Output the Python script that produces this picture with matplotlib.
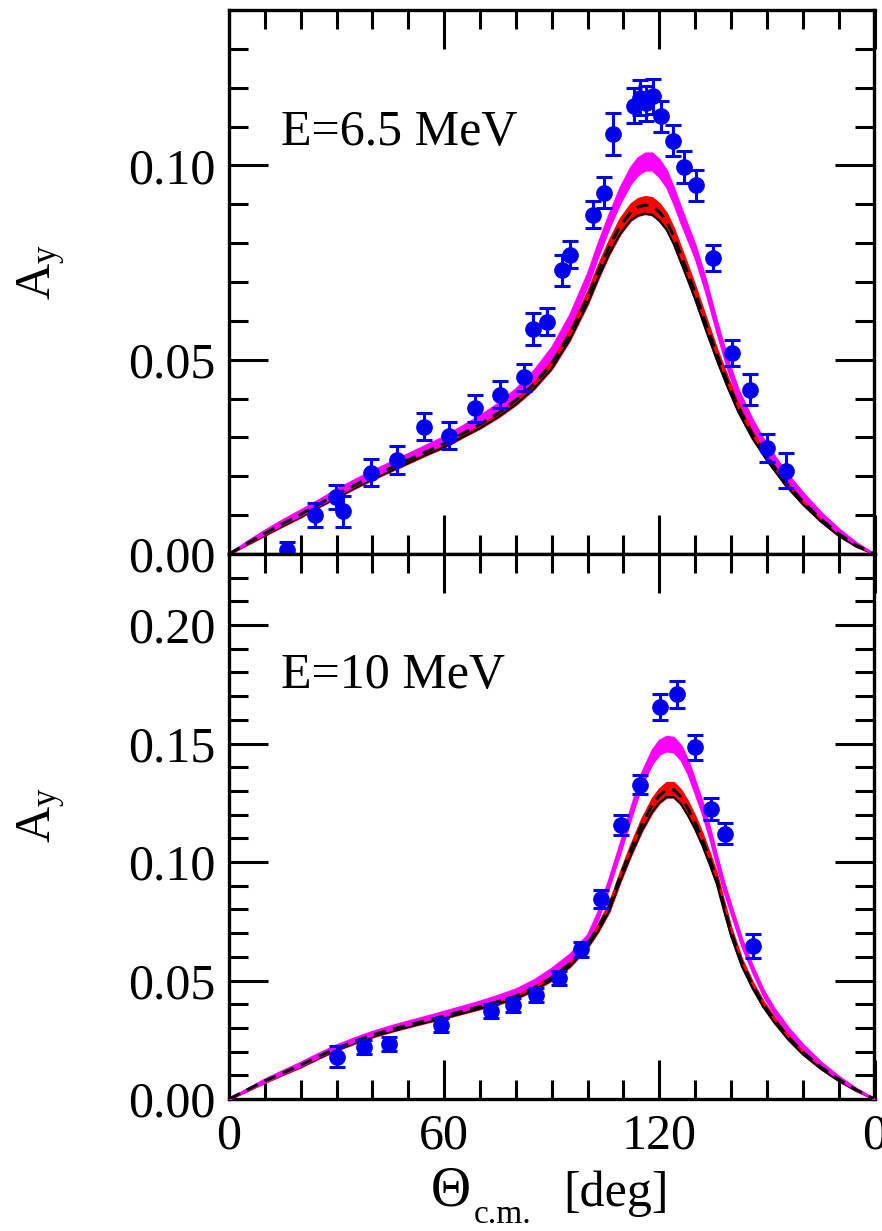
import numpy as np
import matplotlib
matplotlib.use("Agg")
import matplotlib.pyplot as plt

plt.rcParams['font.family'] = 'serif'
plt.rcParams['font.serif'] = ['Liberation Serif', 'DejaVu Serif']
plt.rcParams['mathtext.fontset'] = 'custom'
plt.rcParams['mathtext.rm'] = 'Liberation Serif'
plt.rcParams['mathtext.it'] = 'Liberation Serif:italic'

# ---- E = 6.5 MeV ----
theta_65 = [16.3, 24.0, 29.8, 31.8, 39.6, 46.9, 54.4, 61.4, 68.7, 75.6, 82.3, 84.7, 88.6,
            92.9, 95.0, 101.4, 104.5, 107.0, 113.0, 114.7, 116.4, 118.2, 120.6, 123.7,
            126.8, 130.3, 135.0, 140.4, 145.3, 150.1, 155.4]
ay_65 = [0.001, 0.010, 0.0147, 0.011, 0.0209, 0.0242, 0.0328, 0.0304, 0.0375, 0.041, 0.0455,
         0.0579, 0.0598, 0.073, 0.077, 0.0873, 0.093, 0.108, 0.1153, 0.1174, 0.116, 0.1178,
         0.1127, 0.1063, 0.0996, 0.0949, 0.0762, 0.0518, 0.0423, 0.0272, 0.0214]
err_65 = [0.002, 0.003, 0.003, 0.004, 0.0035, 0.0035, 0.0035, 0.0035, 0.0035, 0.0035, 0.0035,
          0.004, 0.0035, 0.004, 0.0035, 0.0035, 0.004, 0.0054, 0.0045, 0.0045, 0.0045, 0.0045,
          0.004, 0.004, 0.004, 0.004, 0.0034, 0.0034, 0.004, 0.0036, 0.0045]

grid_65 = [0, 5, 10, 15, 20, 25, 30, 35, 40, 45, 50, 55, 60, 65, 70, 75, 80, 85, 90, 95, 100,
           103, 106, 109, 112, 114, 116, 118, 120, 122, 124, 126, 128, 130,
           133, 136, 139, 142, 146, 150, 155, 160, 165, 170, 175, 180]
black_65 = [0, .0027, .0053, .0078, .0102, .0128, .0153, .0177, .020, .0221, .0242, .0263, .0284,
            .0309, .0334, .0362, .0396, .0437, .049, .0565, .066,
            .0728, .079, .0843, .088, .0893, .0898, .0895, .088, .0856, .0818, .077, .0722, .0672,
            .0592, .0514, .0443, .0378, .0307, .025, .0187, .0135, .009, .0052, .0022, 0]
mag_65 = [0, .003, .0057, .0083, .0107, .0133, .0159, .0184, .0207, .0229, .0251, .0273, .0294,
          .0321, .0347, .0378, .0415, .0461, .052, .0602, .0708,
          .0786, .0858, .0923, .0975, .0998, .101, .101, .0993, .0966, .0922, .0872, .0825, .0778,
          .0688, .0585, .049, .0411, .0335, .0272, .0206, .0151, .0102, .006, .0026, 0]
hw_65 = [0, .0003, .0005, .0006, .0007, .0007, .0008, .0008, .0008, .0008, .0008, .0008, .0009,
         .0009, .001, .001, .0011, .0012, .0013, .0014, .0016,
         .0017, .0018, .002, .0021, .0022, .0022, .0022, .0022, .0021, .002, .0019, .0018, .0017,
         .0016, .0014, .0013, .0012, .001, .0009, .0008, .0007, .0006, .0005, .0003, 0]

# ---- E = 10 MeV ----
theta_10 = [30.2, 37.6, 44.6, 59.0, 73.0, 79.2, 85.7, 92.0, 98.1, 103.6, 109.3, 114.6, 120.2,
            125.0, 129.9, 134.3, 138.3, 146.0]
ay_10 = [0.0178, 0.0218, 0.0232, 0.0313, 0.0372, 0.0398, 0.044, 0.0511, 0.0631, 0.0844,
         0.1156, 0.1326, 0.1655, 0.1708, 0.1485, 0.1224, 0.112, 0.0645]
err_10 = [0.0045, 0.003, 0.003, 0.003, 0.003, 0.003, 0.003, 0.003, 0.003, 0.004, 0.0043,
          0.004, 0.0055, 0.0057, 0.0053, 0.0045, 0.0045, 0.005]

grid_10 = [0, 5, 10, 15, 20, 25, 30, 35, 40, 45, 50, 55, 60, 65, 70, 75, 80, 85, 90, 95, 100,
           103, 106, 109, 112, 115, 118, 120, 122, 124, 126, 128, 130, 132, 134, 136, 138, 140,
           143, 146, 149, 152, 156, 160, 165, 170, 175, 180]
black_10 = [0, .0038, .0076, .011, .0143, .018, .0214, .0243, .027, .0292, .0312, .0331, .035,
            .037, .039, .0411, .0434, .0468, .0512, .057, .0655,
            .0725, .081, .0935, .105, .1155, .124, .128, .1305, .1305, .1275, .1225, .1165,
            .1095, .1015, .093, .0815, .0705, .0575, .048, .040, .0335, .026, .0198, .0135,
            .0083, .0038, 0]
mag_10 = [0, .004, .0079, .0114, .0148, .0186, .0221, .0251, .0278, .0301, .0322, .0342, .0362,
          .0383, .0405, .0428, .0455, .0493, .0542, .060, .068,
          .078, .0915, .1057, .1205, .135, .1445, .1485, .150, .1495, .1462, .140, .1315,
          .1228, .1125, .1008, .0895, .080, .066, .0548, .0448, .0372, .029, .0222, .015,
          .009, .004, 0]
hw_10 = [0, .0004, .0006, .0007, .0008, .0008, .0008, .0008, .0008, .0008, .0008, .0008, .0009,
         .0009, .0009, .001, .001, .001, .0011, .0012, .0014,
         .0016, .0018, .002, .0023, .0026, .0029, .003, .0031, .0031, .003, .0029, .0027,
         .0025, .0023, .0021, .0019, .0017, .0015, .0013, .0012, .0011, .001, .0009, .0007,
         .0006, .0004, 0]

fig = plt.figure(figsize=(8.82, 12.31), dpi=100)
W, H = 882., 1231.
x0, x1 = 229, 874.5
ax1 = fig.add_axes([x0/W, 1-554/H, (x1-x0)/W, 544/H])
ax2 = fig.add_axes([x0/W, 1-1099/H, (x1-x0)/W, 545/H])


def draw(ax, grid, black, mag, hw, th, ay, err):
    g = np.array(grid)
    b = np.array(black)
    m = np.array(mag)
    h = np.array(hw)
    ax.fill_between(g, b-h, b+h, color='red', lw=1.5, edgecolor='red', zorder=2)
    ax.plot(g, b-h, color='black', lw=1.5, zorder=3)
    ax.fill_between(g, m-h, m+h, color='#ff00ff', lw=1.5, edgecolor='#ff00ff', zorder=4)
    ax.plot(g, b, color='black', lw=2.2, ls=(0, (4, 2.5)), zorder=5)
    ax.errorbar(th, ay, yerr=err, fmt='o', color='#0000ee', ms=11, capsize=6,
                elinewidth=2.2, capthick=2.2, zorder=6, clip_on=False)


draw(ax1, grid_65, black_65, mag_65, hw_65, theta_65, ay_65, err_65)
draw(ax2, grid_10, black_10, mag_10, hw_10, theta_10, ay_10, err_10)

ax1.set_yticks([0, 0.05, 0.10])
ax1.set_yticklabels(['0.00', '0.05', '0.10'])
ax1.set_yticks(np.arange(0, 0.141, 0.01), minor=True)
ax2.set_yticks([0, 0.05, 0.10, 0.15, 0.20])
ax2.set_yticklabels(['0.00', '0.05', '0.10', '0.15', '0.20'])
ax2.set_yticks(np.arange(0, 0.231, 0.01), minor=True)

for ax in (ax1, ax2):
    ax.set_xticks([0, 60, 120, 180])
    ax.set_xticks(np.arange(0, 181, 10), minor=True)
    ax.set_xlim(0, 180)
    ax.tick_params(which='both', direction='in', top=True, right=True, width=2.2,
                   labelsize=36, pad=10)
    ax.tick_params(which='major', length=28)
    ax.tick_params(which='minor', length=14)
    for s in ax.spines.values():
        s.set_linewidth(2.4)

ax1.set_xticklabels([])
# the right-hand "0" belongs to the neighbouring panel and is cut by the crop
ax2.set_xticklabels(['0', '60', '120', '0'])
ax1.set_ylim(0, 0.14)
ax2.set_ylim(0, 0.23)

ax1.text(0.08, 0.752, 'E=6.5 MeV', transform=ax1.transAxes, fontsize=36, va='baseline')
ax2.text(0.08, 0.754, 'E=10 MeV', transform=ax2.transAxes, fontsize=36, va='baseline')

fig.text(42/W, 1-272/H, r'A$_{\mathrm{y}}$', rotation=90, fontsize=36, ha='center', va='center')
fig.text(42/W, 1-815/H, r'A$_{\mathrm{y}}$', rotation=90, fontsize=36, ha='center', va='center')

fig.text(431/W, 1-1206/H, '\u0398', fontsize=40, ha='left', va='baseline')
fig.text(474/W, 1-1223/H, 'c.m.', fontsize=24, ha='left', va='baseline')
fig.text(563/W, 1-1206/H, '[deg]', fontsize=36, ha='left', va='baseline')

fig.savefig('out.png', dpi=100)
